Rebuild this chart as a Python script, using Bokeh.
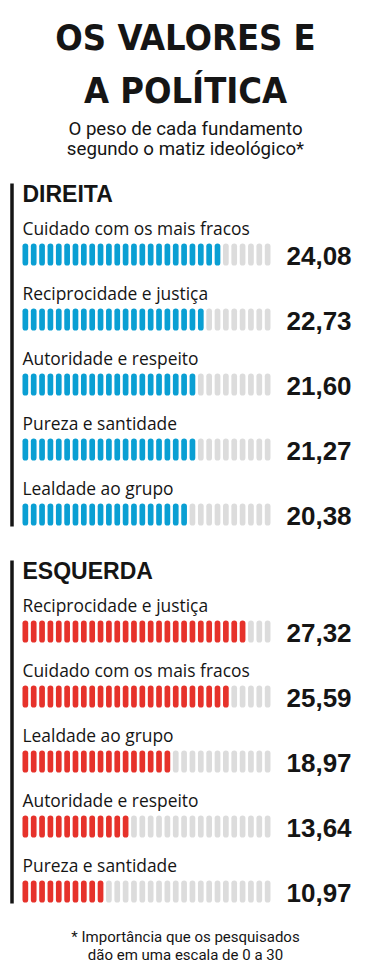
import numpy as np
from bokeh.plotting import figure
from bokeh.models import Range1d, ColumnDataSource
from bokeh.core.properties import value
from bokeh.embed import file_html
from bokeh.resources import INLINE

# ---------------- data ----------------
title_lines = ["OS VALORES E", "A POLÍTICA"]
subtitle_lines = ["O peso de cada fundamento", "segundo o matiz ideológico*"]
footnote_lines = ["* Importância que os pesquisados", "dão em uma escala de 0 a 30"]
scale_max = 30

direita_name = "DIREITA"
direita_labels = ["Cuidado com os mais fracos", "Reciprocidade e justiça",
                  "Autoridade e respeito", "Pureza e santidade", "Lealdade ao grupo"]
direita_values = [24.08, 22.73, 21.60, 21.27, 20.38]

esquerda_name = "ESQUERDA"
esquerda_labels = ["Reciprocidade e justiça", "Cuidado com os mais fracos",
                   "Lealdade ao grupo", "Autoridade e respeito", "Pureza e santidade"]
esquerda_values = [27.32, 25.59, 18.97, 13.64, 10.97]

# ---------------- style / layout ----------------
BLUE = "#0a9fd3"
RED = "#e6322b"
GRAY = "#dcdcdc"
INK = "#151515"

W, H = 370, 966
p = figure(width=W, height=H, output_backend="svg", toolbar_location=None,
           x_range=Range1d(0, W), y_range=Range1d(H, 0),
           x_axis_location=None, y_axis_location=None, min_border=0,
           outline_line_color=None, background_fill_color="white")
p.grid.visible = False


def mid(baseline, fs):
    # place text by its vertical middle, from a desired baseline
    return baseline - 0.36 * fs


TFS, SFS, FFS = 36, 18.7, 15
p.text(x=[185, 185], y=[mid(50, TFS), mid(103, TFS)], text=title_lines,
       text_align="center", text_baseline="middle",
       text_font=value("DejaVu Sans Condensed"), text_font_style="bold",
       text_font_size=f"{TFS}px", text_color=INK)
p.text(x=[185, 185], y=[mid(135, SFS), mid(155, SFS)], text=subtitle_lines,
       text_align="center", text_baseline="middle", text_font=value("Roboto"),
       text_font_size=f"{SFS}px", text_color=INK)
p.text(x=[185, 185], y=[mid(942, FFS), mid(960, FFS)], text=footnote_lines,
       text_align="center", text_baseline="middle", text_font=value("Roboto"),
       text_font_size=f"{FFS}px", text_color=INK)

X0 = 24.85
PITCH = 8.355
SEG_W = 5.7
SEG_H = 22
ROW = 65
HFS, LFS, VFS = 23, 17.4, 26


def section(name, labels, values, color, top):
    # top = header baseline
    p.segment(x0=[11.5], y0=[top - 19], x1=[11.5], y1=[top + 324], line_width=3.5,
              line_color=INK)
    p.text(x=[22], y=[mid(top, HFS)], text=[name], text_baseline="middle",
           text_font=value("Liberation Sans"), text_font_style="bold",
           text_font_size=f"{HFS}px", text_color=INK)
    centers = [top + 52 + k * ROW for k in range(len(values))]
    p.text(x=[22] * len(labels), y=[mid(c - 20, LFS) for c in centers], text=labels,
           text_baseline="middle", text_font=value("Open Sans"),
           text_font_size=f"{LFS}px", text_color=INK)
    p.text(x=[286] * len(values), y=[mid(c + 11, VFS) for c in centers],
           text=[f"{v:.2f}".replace(".", ",") for v in values],
           text_baseline="middle", text_font=value("Liberation Sans"),
           text_font_style="bold", text_font_size=f"{VFS}px", text_color=INK)
    xs0, ys0, ys1, cols = [], [], [], []
    for c, v in zip(centers, values):
        n = int(np.floor(v))
        for i in range(scale_max):
            xs0.append(X0 + i * PITCH)
            ys0.append(c - SEG_H / 2 + SEG_W / 2)
            ys1.append(c + SEG_H / 2 - SEG_W / 2)
            cols.append(color if i < n else GRAY)
    src = ColumnDataSource(dict(x=xs0, y0=ys0, y1=ys1, c=cols))
    p.segment(x0="x", y0="y0", x1="x", y1="y1", line_color="c",
              line_width=SEG_W, line_cap="round", source=src)


section(direita_name, direita_labels, direita_values, BLUE, 202)
section(esquerda_name, esquerda_labels, esquerda_values, RED, 579)

open("out.html", "w").write(file_html(p, INLINE))
